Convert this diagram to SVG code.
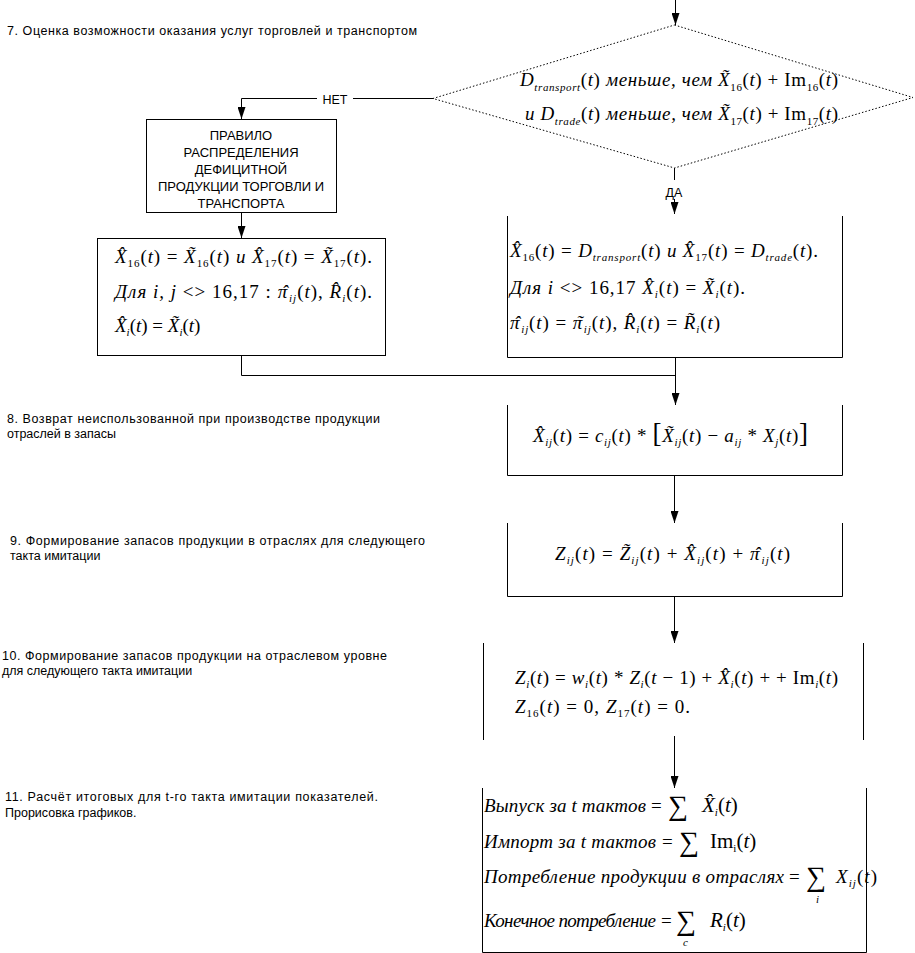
<svg xmlns="http://www.w3.org/2000/svg" width="915" height="953" viewBox="0 0 915 953">
<defs>
<marker id="ah" viewBox="0 0 12 8" refX="12" refY="4" markerWidth="12" markerHeight="8" markerUnits="userSpaceOnUse" orient="auto">
<path d="M0,0 L12,4 L0,8 z" fill="#000"/>
</marker>
<style>
.ln{fill:none;stroke:#000;stroke-width:1}
.lbl{font-family:"Liberation Sans",Arial,sans-serif;font-size:12.5px;fill:#000}
.bt{font-family:"Liberation Sans",Arial,sans-serif;font-size:13px;fill:#000;text-anchor:middle}
.m{font-family:"Liberation Serif","Times New Roman",serif;font-size:19px;font-style:italic;fill:#000}
.r{font-style:normal}
.s{font-size:11px}
.big{font-size:28px;font-style:normal}
.brk{font-size:27px;font-style:normal}
.f21{font-size:21px}
</style>
</defs>
<rect width="915" height="953" fill="#fff"/>

<g id="labels">
<text class="lbl" x="7" y="35" textLength="410">7. Оценка возможности оказания услуг торговлей и транспортом</text>
<text class="lbl" x="7" y="423" textLength="373">8. Возврат неиспользованной при производстве продукции</text>
<text class="lbl" x="7" y="438">отраслей в запасы</text>
<text class="lbl" x="10" y="545" textLength="415">9. Формирование запасов продукции в отраслях для следующего</text>
<text class="lbl" x="10" y="560">такта имитации</text>
<text class="lbl" x="2" y="660" textLength="385">10. Формирование запасов продукции на отраслевом уровне</text>
<text class="lbl" x="2" y="675">для следующего такта имитации</text>
<text class="lbl" x="5" y="801" textLength="373">11. Расчёт итоговых для t-го такта имитации показателей.</text>
<text class="lbl" x="5" y="817">Прорисовка графиков.</text>
</g>

<g id="connectors">
<path class="ln" d="M675.5,0 V25" marker-end="url(#ah)"/>
<path class="ln" d="M433,98.5 H241.5 V119" marker-end="url(#ah)"/>
<rect x="317" y="91" width="36" height="15" fill="#fff"/>
<text class="lbl" x="335" y="104" text-anchor="middle" font-size="13">НЕТ</text>
<path class="ln" d="M241.5,212 V238" marker-end="url(#ah)"/>
<path class="ln" d="M674.5,168 V180"/>
<text class="lbl" x="674" y="197" text-anchor="middle" font-size="12.5">ДА</text>
<path class="ln" d="M674.5,199 V214" marker-end="url(#ah)"/>
<path class="ln" d="M241.5,356 V375.5 H675.5"/>
<path class="ln" d="M675.5,357 V405" marker-end="url(#ah)"/>
<path class="ln" d="M674.5,476 V523" marker-end="url(#ah)"/>
<path class="ln" d="M674.5,596 V643" marker-end="url(#ah)"/>
<path class="ln" d="M674.5,736 V788" marker-end="url(#ah)"/>
</g>

<g id="decision">
<polygon points="674.5,25 913,97.5 674.5,168 433,98.5" fill="none" stroke="#000" stroke-width="1" stroke-dasharray="1.5,2"/>
<text class="m" x="520" y="86" font-size="20" textLength="318">D<tspan class="s" dy="5">transport</tspan><tspan class="r" dy="-5">(</tspan>t<tspan class="r">) </tspan>меньше, чем X̃<tspan class="s r" dy="5">16</tspan><tspan class="r" dy="-5">(</tspan>t<tspan class="r">) + Im</tspan><tspan class="s r" dy="5">16</tspan><tspan class="r" dy="-5">(</tspan>t<tspan class="r">)</tspan></text>
<text class="m" x="525" y="120" font-size="20" textLength="313">и D<tspan class="s" dy="5">trade</tspan><tspan class="r" dy="-5">(</tspan>t<tspan class="r">) </tspan>меньше, чем X̃<tspan class="s r" dy="5">17</tspan><tspan class="r" dy="-5">(</tspan>t<tspan class="r">) + Im</tspan><tspan class="s r" dy="5">17</tspan><tspan class="r" dy="-5">(</tspan>t<tspan class="r">)</tspan></text>
</g>

<g id="rule-box">
<rect class="ln" x="146.5" y="119.5" width="190" height="93"/>
<text class="bt" x="241" y="140">ПРАВИЛО</text>
<text class="bt" x="241" y="157">РАСПРЕДЕЛЕНИЯ</text>
<text class="bt" x="241" y="174">ДЕФИЦИТНОЙ</text>
<text class="bt" x="241" y="191">ПРОДУКЦИИ ТОРГОВЛИ И</text>
<text class="bt" x="241" y="208">ТРАНСПОРТА</text>
</g>

<g id="no-branch-box">
<rect class="ln" x="97.5" y="238.5" width="288" height="117"/>
<text class="m" x="115" y="263" textLength="257">X̂<tspan class="s r" dy="4">16</tspan><tspan class="r" dy="-4">(</tspan>t<tspan class="r">) = </tspan>X̃<tspan class="s r" dy="4">16</tspan><tspan class="r" dy="-4">(</tspan>t<tspan class="r">) </tspan>и X̂<tspan class="s r" dy="4">17</tspan><tspan class="r" dy="-4">(</tspan>t<tspan class="r">) = </tspan>X̃<tspan class="s r" dy="4">17</tspan><tspan class="r" dy="-4">(</tspan>t<tspan class="r">).</tspan></text>
<text class="m" x="115" y="298" textLength="257">Для i, j <tspan class="r">&lt;&gt; 16,17 : </tspan>π<tspan dx="-6.5">ˆ</tspan><tspan class="s" dy="4">ij</tspan><tspan class="r" dy="-4">(</tspan>t<tspan class="r">), </tspan>R̂<tspan class="s" dy="4">i</tspan><tspan class="r" dy="-4">(</tspan>t<tspan class="r">).</tspan></text>
<text class="m" x="115" y="332">X̂<tspan class="s" dy="4">i</tspan><tspan class="r" dy="-4">(</tspan>t<tspan class="r">) = </tspan>X̃<tspan class="s" dy="4">i</tspan><tspan class="r" dy="-4">(</tspan>t<tspan class="r">)</tspan></text>
</g>

<g id="yes-branch-box">
<path class="ln" d="M507.5,216 V357.5 H842.5 V216"/>
<text class="m" x="510" y="257" textLength="308">X̂<tspan class="s r" dy="4">16</tspan><tspan class="r" dy="-4">(</tspan>t<tspan class="r">) = </tspan>D<tspan class="s" dy="4">transport</tspan><tspan class="r" dy="-4">(</tspan>t<tspan class="r">) </tspan>и X̂<tspan class="s r" dy="4">17</tspan><tspan class="r" dy="-4">(</tspan>t<tspan class="r">) = </tspan>D<tspan class="s" dy="4">trade</tspan><tspan class="r" dy="-4">(</tspan>t<tspan class="r">).</tspan></text>
<text class="m" x="510" y="294" textLength="235">Для i <tspan class="r">&lt;&gt; 16,17 </tspan>X̂<tspan class="s" dy="4">i</tspan><tspan class="r" dy="-4">(</tspan>t<tspan class="r">) = </tspan>X̃<tspan class="s" dy="4">i</tspan><tspan class="r" dy="-4">(</tspan>t<tspan class="r">).</tspan></text>
<text class="m" x="510" y="329" textLength="210">π<tspan dx="-6.5">ˆ</tspan><tspan class="s" dy="4">ij</tspan><tspan class="r" dy="-4">(</tspan>t<tspan class="r">) = </tspan>π<tspan dx="-6.5">˜</tspan><tspan class="s" dy="4">ij</tspan><tspan class="r" dy="-4">(</tspan>t<tspan class="r">), </tspan>R̂<tspan class="s" dy="4">i</tspan><tspan class="r" dy="-4">(</tspan>t<tspan class="r">) = </tspan>R̃<tspan class="s" dy="4">i</tspan><tspan class="r" dy="-4">(</tspan>t<tspan class="r">)</tspan></text>
</g>

<g id="step8-box">
<path class="ln" d="M507.5,405 V475.5 H842.5 V405"/>
<text class="m" x="533" y="442" textLength="275">X̂<tspan class="s" dy="4">ij</tspan><tspan class="r" dy="-4">(</tspan>t<tspan class="r">) = </tspan>c<tspan class="s" dy="4">ij</tspan><tspan class="r" dy="-4">(</tspan>t<tspan class="r">) * </tspan><tspan class="brk">[</tspan>X̃<tspan class="s" dy="4">ij</tspan><tspan class="r" dy="-4">(</tspan>t<tspan class="r">) − </tspan>a<tspan class="s" dy="4">ij</tspan><tspan class="r" dy="-4"> * </tspan>X<tspan class="s" dy="4">j</tspan><tspan class="r" dy="-4">(</tspan>t<tspan class="r">)</tspan><tspan class="brk">]</tspan></text>
</g>

<g id="step9-box">
<path class="ln" d="M507.5,523 V596.5 H842.5 V523"/>
<text class="m" x="555" y="560" textLength="235">Z<tspan class="s" dy="4">ij</tspan><tspan class="r" dy="-4">(</tspan>t<tspan class="r">) = </tspan>Z̃<tspan class="s" dy="4">ij</tspan><tspan class="r" dy="-4">(</tspan>t<tspan class="r">) + </tspan>X̂<tspan class="s" dy="4">ij</tspan><tspan class="r" dy="-4">(</tspan>t<tspan class="r">) + </tspan>π<tspan dx="-6.5">ˆ</tspan><tspan class="s" dy="4">ij</tspan><tspan class="r" dy="-4">(</tspan>t<tspan class="r">)</tspan></text>
</g>

<g id="step10-box">
<path class="ln" d="M483.5,643 V740"/>
<path class="ln" d="M863.5,643 V740"/>
<text class="m" x="515" y="684" textLength="323">Z<tspan class="s" dy="4">i</tspan><tspan class="r" dy="-4">(</tspan>t<tspan class="r">) = </tspan>w<tspan class="s" dy="4">i</tspan><tspan class="r" dy="-4">(</tspan>t<tspan class="r">) * </tspan>Z<tspan class="s" dy="4">i</tspan><tspan class="r" dy="-4">(</tspan>t<tspan class="r"> − 1) + </tspan>X̂<tspan class="s" dy="4">i</tspan><tspan class="r" dy="-4">(</tspan>t<tspan class="r">) + + Im</tspan><tspan class="s" dy="4">i</tspan><tspan class="r" dy="-4">(</tspan>t<tspan class="r">)</tspan></text>
<text class="m" x="515" y="713" textLength="175">Z<tspan class="s r" dy="4">16</tspan><tspan class="r" dy="-4">(</tspan>t<tspan class="r">) = 0, </tspan>Z<tspan class="s r" dy="4">17</tspan><tspan class="r" dy="-4">(</tspan>t<tspan class="r">) = 0.</tspan></text>
</g>

<g id="step11-box">
<path class="ln" d="M482.5,788 V952.5 H866.5 V788"/>
<text class="m" x="484" y="812" textLength="162">Выпуск за t тактов</text>
<text class="m r" x="651" y="812">=</text>
<text class="m big" x="668" y="815">∑</text>
<text class="m f21" x="702" y="812">X̂<tspan class="s" dy="4">i</tspan><tspan class="r" dy="-4">(</tspan>t<tspan class="r">)</tspan></text>
<text class="m" x="484" y="848" textLength="172">Импорт за t тактов</text>
<text class="m r" x="662" y="848">=</text>
<text class="m big" x="679" y="851">∑</text>
<text class="m r f21" x="710" y="848">Im<tspan class="s" dy="4">i</tspan><tspan dy="-4">(</tspan><tspan font-style="italic">t</tspan>)</text>
<text class="m" x="484" y="883" textLength="300">Потребление продукции в отраслях</text>
<text class="m r" x="789" y="883">=</text>
<text class="m big" x="806" y="886">∑</text>
<text class="m" x="836" y="883" textLength="41">X<tspan class="s" dy="4">ij</tspan><tspan class="r" dy="-4">(</tspan>t<tspan class="r">)</tspan></text>
<text class="m s" x="816" y="903">i</text>
<text class="m" x="484" y="927" textLength="172">Конечное потребление</text>
<text class="m r" x="661" y="927">=</text>
<text class="m big" x="676" y="930">∑</text>
<text class="m f21" x="710" y="927">R<tspan class="s" dy="4">i</tspan><tspan class="r" dy="-4">(</tspan>t<tspan class="r">)</tspan></text>
<text class="m s" x="683" y="946">c</text>
</g>
</svg>
